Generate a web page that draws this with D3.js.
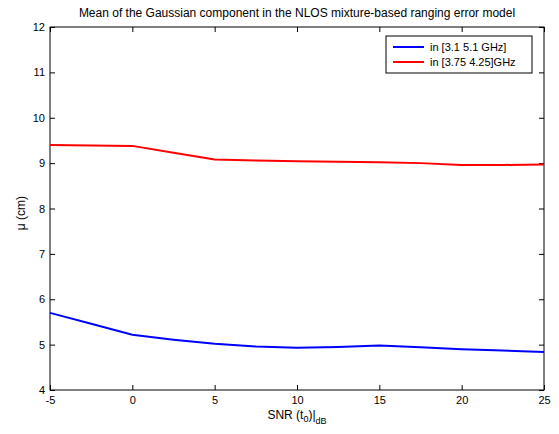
<!DOCTYPE html>
<html><head><meta charset="utf-8">
<script src="https://cdn.jsdelivr.net/npm/d3@7"></script>
<style>body{margin:0;background:#fff}svg{display:block}text{font-family:"Liberation Sans",Arial,sans-serif}</style>
</head><body><svg id="c" width="559" height="434"></svg>
<script>
const snr = [-5, -2.5, 0, 2.5, 5, 7.5, 10, 12.5, 15, 17.5, 20, 22.5, 25];
const muWide = [5.70, 5.46, 5.22, 5.11, 5.02, 4.96, 4.93, 4.95, 4.98, 4.94, 4.90, 4.87, 4.84];
const muNarrow = [9.40, 9.39, 9.38, 9.23, 9.08, 9.06, 9.04, 9.03, 9.02, 9.00, 8.96, 8.96, 8.97];
const seriesNames = ["in [3.1 5.1 GHz]", "in [3.75 4.25]GHz"];
const seriesColors = ["#0000ff", "#ff0000"];
const xTicks = [-5, 0, 5, 10, 15, 20, 25];
const yTicks = [4, 5, 6, 7, 8, 9, 10, 11, 12];

const svg = d3.select("#c");
const L = 50, R = 544, T = 27, B = 390;
const x = d3.scaleLinear().domain([-5, 25]).range([L, R]);
const y = d3.scaleLinear().domain([4, 12]).range([B, T]);
const fmt = d => String(d);

svg.append("rect").attr("x", L).attr("y", T).attr("width", R - L).attr("height", B - T)
  .attr("fill", "#fff").attr("stroke", "#000").attr("stroke-width", 1);

function styleAxis(g, showLabels) {
  g.select(".domain").remove();
  g.selectAll("line").attr("stroke", "#000");
  g.selectAll("text").attr("fill", "#000").style("font-size", "11px");
  if (!showLabels) g.selectAll("text").remove();
}
svg.append("g").attr("transform", `translate(0,${B})`)
  .call(d3.axisBottom(x).tickValues(xTicks).tickSize(-5).tickPadding(6).tickFormat(fmt))
  .call(g => styleAxis(g, true));
svg.append("g").attr("transform", `translate(0,${T})`)
  .call(d3.axisTop(x).tickValues(xTicks).tickSize(-5).tickFormat(""))
  .call(g => styleAxis(g, false));
svg.append("g").attr("transform", `translate(${L},0)`)
  .call(d3.axisLeft(y).tickValues(yTicks).tickSize(-5).tickPadding(5).tickFormat(fmt))
  .call(g => styleAxis(g, true));
svg.append("g").attr("transform", `translate(${R},0)`)
  .call(d3.axisRight(y).tickValues(yTicks).tickSize(-5).tickFormat(""))
  .call(g => styleAxis(g, false));

const line = d3.line().x((d, i) => x(snr[i])).y(d => y(d));
[muWide, muNarrow].forEach((s, k) => {
  svg.append("path").datum(s).attr("d", line).attr("fill", "none")
    .attr("stroke", seriesColors[k]).attr("stroke-width", 2);
});

const lg = svg.append("g");
lg.append("rect").attr("x", 386).attr("y", 36).attr("width", 146).attr("height", 37)
  .attr("fill", "#fff").attr("stroke", "#000").attr("stroke-width", 1);
seriesNames.forEach((n, k) => {
  const yy = 47 + k * 15;
  lg.append("line").attr("x1", 393).attr("x2", 424).attr("y1", yy).attr("y2", yy)
    .attr("stroke", seriesColors[k]).attr("stroke-width", 2);
  lg.append("text").attr("x", 430).attr("y", yy + 4).style("font-size", "11px").text(n);
});

svg.append("text").attr("x", (L + R) / 2).attr("y", 17).attr("text-anchor", "middle")
  .style("font-size", "12px").text("Mean of the Gaussian component in the NLOS mixture-based ranging error model");

const xl = svg.append("text").attr("x", (L + R) / 2).attr("y", 419).attr("text-anchor", "middle").style("font-size", "12px");
xl.append("tspan").text("SNR (t");
xl.append("tspan").attr("dy", 3).style("font-size", "9px").text("0");
xl.append("tspan").attr("dy", -3).text(")|");
xl.append("tspan").attr("dy", 5).style("font-size", "9px").text("dB");

svg.append("text").attr("transform", `translate(25,213) rotate(-90)`)
  .attr("text-anchor", "middle").style("font-size", "12px").text("μ (cm)");
</script></body></html>
